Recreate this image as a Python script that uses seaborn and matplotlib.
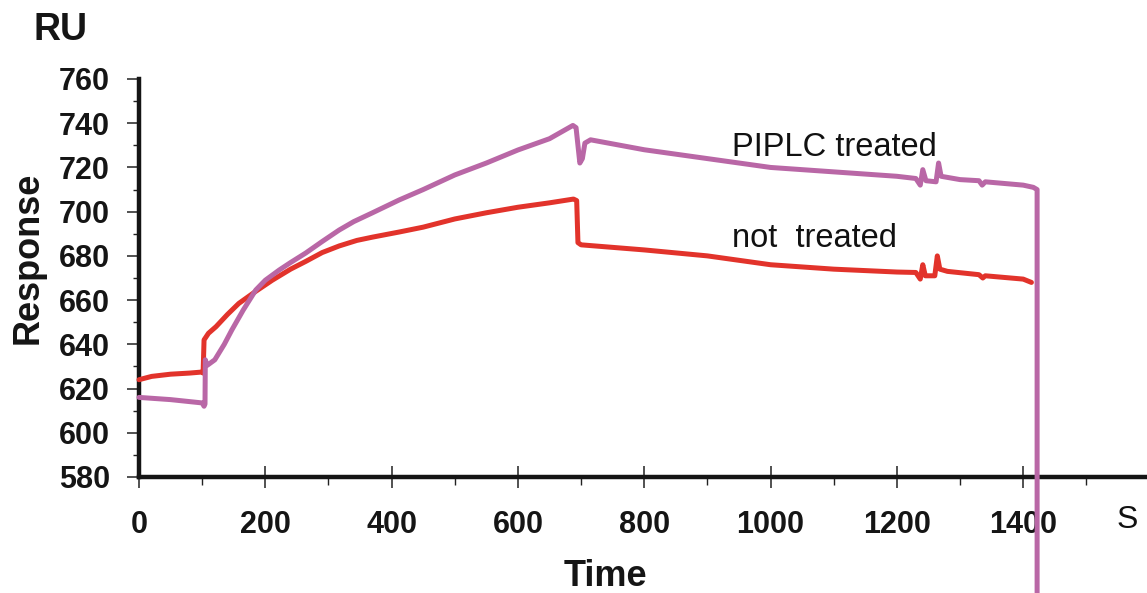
import numpy as np
import pandas as pd
import seaborn as sns
import matplotlib.pyplot as plt

# ---- data ----
red_time = [0, 20, 50, 80, 101, 101.5, 103, 110, 122, 140, 158, 185, 211, 240, 264, 290, 317, 345,
            370, 412, 450, 500, 550, 600, 650, 688,
            693, 695, 700, 800, 900, 1000, 1100, 1200, 1230, 1237, 1241, 1245, 1260, 1264, 1268,
            1280, 1330, 1336, 1340, 1400, 1413]
red_resp = [624, 625.5, 626.5, 627, 627.5, 627, 642, 645, 648, 653.5, 658.5, 664, 669, 674, 677.5,
            681.5, 684.5, 687, 688.5, 690.8, 693, 696.7, 699.5, 702, 704, 705.7,
            705, 686, 685, 682.7, 680, 676, 674, 672.7, 672.5, 669.5, 676,
            671, 671, 680, 674, 673, 671.5, 670, 671, 669.5, 668]

pur_time = [0, 50, 100, 103, 104.5, 105, 108, 120, 135, 147, 165, 185, 200, 222, 240, 264, 290,
            317, 340, 369, 412, 450, 500, 550, 600,
            650, 687, 692, 695, 698, 702, 706, 715, 800, 900, 1000, 1100, 1200, 1230, 1237, 1241,
            1246, 1262, 1266, 1270, 1300, 1330, 1335, 1340, 1400, 1416, 1422, 1422]
pur_resp = [616, 615, 613.5, 612, 613, 633, 630.5, 633, 640, 646.5, 655.5, 664.6, 669, 673.6, 677,
            681.3, 686.5, 691.7, 695.5, 699.4, 705.3, 710, 716.6, 722, 727.9,
            733, 739, 738, 730, 722, 724, 731, 732.5, 728, 724, 720, 718, 716,
            715, 712, 719, 714, 713.5, 722, 716, 714.5, 714, 712, 713.5, 712, 711, 710, 527]

series_names = ["not treated", "PIPLC treated"]
x_major = list(range(0, 1401, 200))
x_minor = list(range(100, 1600, 200))
y_major = list(range(580, 761, 20))
y_minor = list(range(590, 760, 20))

df = pd.concat([
    pd.DataFrame({"time": red_time, "response": red_resp, "sample": series_names[0]}),
    pd.DataFrame({"time": pur_time, "response": pur_resp, "sample": series_names[1]}),
], ignore_index=True)

sns.set_theme(style="white")
plt.rcParams['font.family'] = ['Liberation Sans', 'DejaVu Sans']

W, H = 1147, 593
fig = plt.figure(figsize=(W / 100, H / 100), dpi=100)
ax = fig.add_axes([139 / W, 1 - 477 / H, 1 - 139 / W, (477 - 79) / H])

palette = {series_names[0]: "#E2332B", series_names[1]: "#B967A6"}
sns.lineplot(data=df, x="time", y="response", hue="sample", palette=palette,
             sort=False, estimator=None, lw=3.6, legend=False, ax=ax, clip_on=False)

ax.set_xlim(0, 1596)
ax.set_ylim(580, 760)

for s in ["top", "right"]:
    ax.spines[s].set_visible(False)
for s in ["left", "bottom"]:
    ax.spines[s].set_linewidth(3.2)
    ax.spines[s].set_color("#151515")
    ax.spines[s].set_zorder(1)

ax.set_xticks(x_major)
ax.set_xticks(x_minor, minor=True)
ax.set_yticks(y_major)
ax.set_yticks(y_minor, minor=True)

ax.tick_params(axis="x", which="major", direction="inout", length=16, width=1.1,
               color="#222222", labelsize=22, pad=16, bottom=True)
ax.tick_params(axis="x", which="minor", direction="out", length=6, width=1.0,
               color="#222222", bottom=True)
ax.tick_params(axis="y", which="major", direction="out", length=9, width=1.1,
               color="#222222", labelsize=22, pad=12, left=True)
ax.tick_params(axis="y", which="minor", direction="out", length=4.5, width=1.0,
               color="#222222", left=True)
for lbl in ax.get_xticklabels() + ax.get_yticklabels():
    lbl.set_fontweight("bold")
    lbl.set_color("#151515")

ax.set_xlabel("")
ax.set_ylabel("")

ax.text(939, 728.8, "PIPLC treated", fontsize=23.5, va="center", ha="left", color="#111111")
ax.text(939, 688, "not  treated", fontsize=23.5, va="center", ha="left", color="#111111")
ax.text(1565, 560.5, "S", fontsize=23, va="center", ha="center", color="#111111", clip_on=False)

fig.text(33 / W, 1 - 30 / H, "RU", fontsize=27, fontweight="bold", va="center", ha="left", color="#151515")
fig.text(28 / W, 1 - 258 / H, "Response", fontsize=26, fontweight="bold", rotation=90,
         va="center", ha="center", color="#151515")
fig.text(605 / W, 1 - 577 / H, "Time", fontsize=26, fontweight="bold", va="center", ha="center",
         color="#151515")

fig.savefig("out.png", dpi=100)
